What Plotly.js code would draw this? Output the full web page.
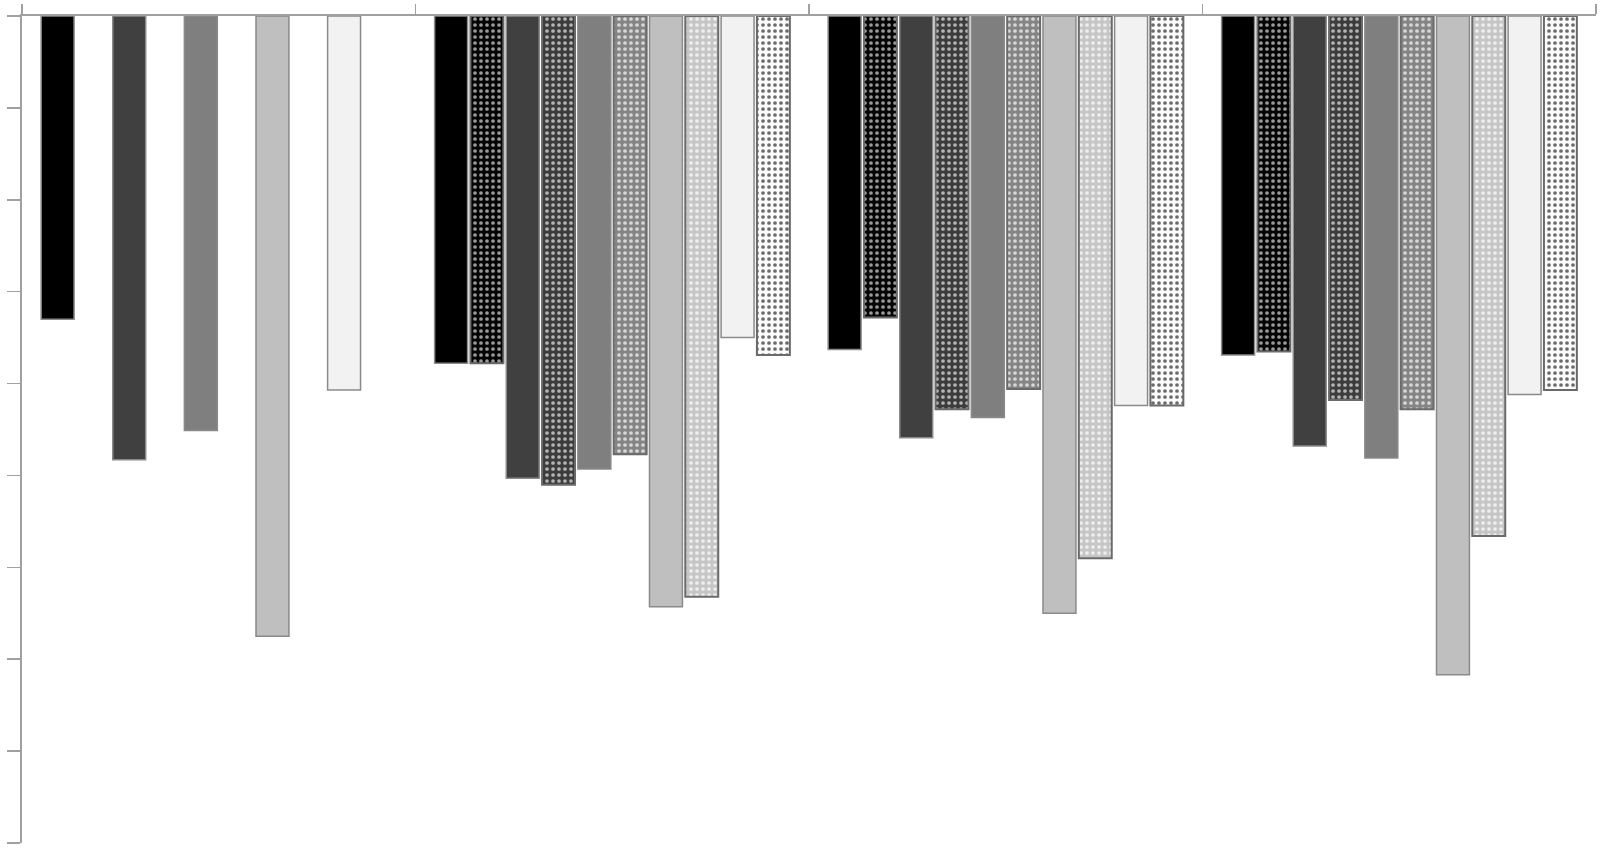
<!DOCTYPE html>
<html>
<head>
<meta charset="utf-8">
<script src="https://cdn.plot.ly/plotly-3.0.1.min.js"></script>
<style>
  html, body { margin: 0; padding: 0; background: #fff; }
  #fig { width: 1603px; height: 850px; }
</style>
</head>
<body>
<div id="fig"></div>
<script>
// four groups, no labels drawn in the original
var groups = ['G1', 'G2', 'G3', 'G4'];

// values (one axis tick = 1 unit, bars hang from 0 at the top)
var black     = [3.30, 3.78, 3.63, 3.69];
var blackPat  = [null, 3.78, 3.28, 3.65];
var dark      = [4.83, 5.03, 4.59, 4.68];
var darkPat   = [null, 5.10, 4.28, 4.18];
var mid       = [4.51, 4.93, 4.37, 4.81];
var midPat    = [null, 4.77, 4.06, 4.28];
var light     = [6.75, 6.43, 6.50, 7.17];
var lightPat  = [null, 6.32, 5.90, 5.66];
var white     = [4.07, 3.50, 4.24, 4.12];
var whitePat  = [null, 3.69, 4.24, 4.07];

var yTicks = [0, 1, 2, 3, 4, 5, 6, 7, 8, 9];

function solid(name, y, color) {
  return {
    type: 'bar', name: name, x: groups, y: y,
    marker: { color: color, line: { color: '#8a8a8a', width: 1.5 } },
    hoverinfo: 'y'
  };
}

function dotted(name, y, bg, fg) {
  return {
    type: 'bar', name: name, x: groups, y: y,
    marker: {
      color: bg,
      line: { color: '#6a6a6a', width: 2 },
      pattern: { shape: '.', bgcolor: bg, fgcolor: fg, size: 6, solidity: 0.3, fillmode: 'replace' }
    },
    hoverinfo: 'y'
  };
}

var data = [
  solid('black', black, '#000000'),
  dotted('black pattern', blackPat, '#050505', '#9a9a9a'),
  solid('dark', dark, '#404040'),
  dotted('dark pattern', darkPat, '#3c3c3c', '#b5b5b5'),
  solid('mid', mid, '#7f7f7f'),
  dotted('mid pattern', midPat, '#858585', '#d8d8d8'),
  solid('light', light, '#bfbfbf'),
  dotted('light pattern', lightPat, '#c6c6c6', '#efefef'),
  solid('white', white, '#f2f2f2'),
  dotted('white pattern', whitePat, '#fbfbfb', '#6a6a6a')
];

var layout = {
  width: 1603, height: 850,
  margin: { l: 22, r: 7, t: 16, b: 7 },
  paper_bgcolor: '#ffffff', plot_bgcolor: '#ffffff',
  showlegend: false,
  barmode: 'group',
  bargap: 0.09,
  bargroupgap: 0.08,
  xaxis: {
    side: 'top', type: 'category',
    showline: true, linecolor: '#a0a0a0', linewidth: 2,
    ticks: 'outside', tickson: 'boundaries', ticklen: 10, tickwidth: 1.5, tickcolor: '#a0a0a0',
    showticklabels: false, showgrid: false, zeroline: false
  },
  yaxis: {
    range: [9, 0],
    tickmode: 'array', tickvals: yTicks,
    showline: true, linecolor: '#a0a0a0', linewidth: 2,
    ticks: 'outside', ticklen: 13, tickwidth: 1.5, tickcolor: '#a0a0a0',
    showticklabels: false, showgrid: false, zeroline: false
  }
};

Plotly.newPlot('fig', data, layout, { staticPlot: true });
</script>
</body>
</html>
